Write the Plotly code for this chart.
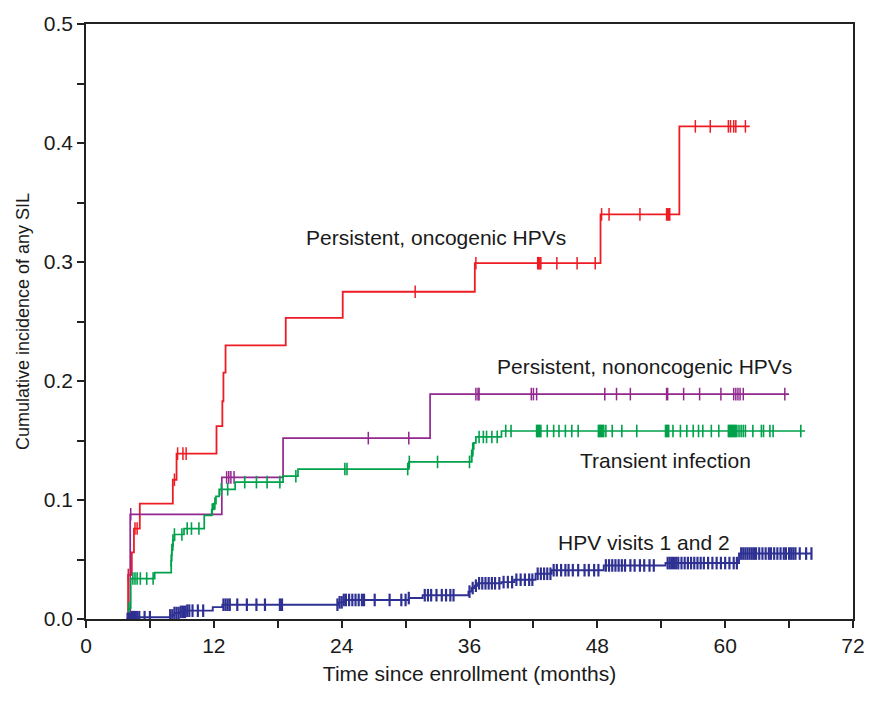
import numpy as np
import plotly.graph_objects as go

# ---------------- data ----------------
# Persistent, oncogenic HPVs (red)
onc_t = [3.9, 3.95, 4.3, 4.5, 5.05, 8.15, 8.5, 12.25, 12.8, 12.9, 13.1, 18.75, 24.1, 36.5, 48.3, 55.7, 62.3]
onc_y = [0, 0.037, 0.056, 0.076, 0.097, 0.117, 0.139, 0.162, 0.183, 0.207, 0.230, 0.253, 0.275, 0.299, 0.340, 0.414, 0.414]
onc_c = [3.97, 4.6, 4.8, 8.3, 8.6, 9.1, 9.4, 30.9, 36.6, 42.4, 42.5, 42.6, 42.7, 44.2, 46.1, 47.8,
         48.4, 49.1, 52.0, 54.5, 54.6, 54.7, 54.8, 57.2, 58.6, 60.3, 60.5, 60.8, 61.0, 61.9]

# Persistent, nononcogenic HPVs (purple)
non_t = [4.1, 4.15, 12.75, 18.5, 32.3, 66.0]
non_y = [0, 0.088, 0.119, 0.152, 0.189, 0.189]
non_c = [4.2, 13.2, 13.4, 13.6, 13.9, 26.5, 30.3, 36.6, 36.8, 36.9, 41.8, 42.0, 42.3, 48.7, 49.8,
         51.1, 54.5, 54.6, 56.1, 57.6, 59.6, 60.8, 61.0, 61.2, 61.4, 61.7, 65.6]

# Transient infection (green)
tra_t = [3.95, 4.0, 4.2, 6.45, 8.0, 8.05, 8.15, 8.3, 9.2, 11.1, 11.8, 12.0, 12.2, 12.5, 14.0, 18.5,
         19.9, 30.3, 36.2, 36.3, 36.4, 36.6, 39.0, 67.5]
tra_y = [0, 0.009, 0.034, 0.039, 0.049, 0.058, 0.066, 0.071, 0.076, 0.087, 0.092, 0.097, 0.103, 0.109,
         0.115, 0.120, 0.126, 0.132, 0.137, 0.143, 0.148, 0.153, 0.158, 0.158]
tra_c = [4.01, 4.4, 4.6, 4.8, 5.1, 5.7, 6.3, 8.0, 8.06, 8.16, 8.3, 9.0, 9.5, 9.9, 10.6, 11.85, 12.1,
         12.7, 13.3, 14.9, 16.0, 17.0, 18.2, 19.7, 24.3, 24.5, 30.2, 30.35, 33.0, 36.0, 36.2, 36.3,
         36.9, 37.3, 37.6, 38.1, 38.6, 39.4, 39.9, 42.3, 42.4, 42.5, 42.6, 42.7, 43.3, 43.9, 44.4,
         45.0, 45.6, 46.2, 48.1, 48.2, 48.3, 48.4, 48.5, 48.6, 48.8, 49.4, 50.3, 51.7, 54.4, 54.5,
         54.6, 54.7, 55.1, 55.8, 56.4, 57.0, 57.5, 57.9, 58.7, 59.4, 60.3, 60.4, 60.5, 60.6, 60.7,
         60.8, 60.9, 61.0, 61.1, 61.3, 61.5, 61.7, 61.9, 62.6, 63.4, 63.6, 64.2, 64.5, 67.1]

# HPV visits 1 and 2 (blue)
hpv_t = [3.8, 4.3, 7.9, 8.3, 8.8, 9.4, 11.9, 12.8, 23.7, 24.2, 30.3, 31.6, 35.9, 36.2, 36.5, 36.8,
         39.0, 40.2, 42.2, 43.7, 48.6, 54.4, 61.3, 68.1]
hpv_y = [0, 0.0015, 0.003, 0.005, 0.006, 0.007, 0.010, 0.012, 0.014, 0.016, 0.0176, 0.020, 0.023,
         0.026, 0.028, 0.030, 0.031, 0.033, 0.038, 0.041, 0.045, 0.047, 0.055, 0.055]
hpv_c = [3.9, 4.0, 4.1, 4.2, 4.3, 4.4, 4.5, 4.6, 4.8, 5.0, 5.5, 6.0,
         7.9, 8.1, 8.3, 8.5, 8.7, 8.9, 9.1, 9.3, 9.5, 9.7, 10.0, 10.5, 11.0,
         12.9, 13.1, 13.3, 13.5, 14.2, 15.1, 16.0, 16.8, 18.2, 18.4,
         23.6, 23.8, 24.0, 24.2, 24.4, 24.7, 25.0, 25.3, 25.6, 25.9, 26.1, 27.1, 28.5, 29.6, 30.0, 30.3,
         31.8, 32.1, 32.4, 32.9, 33.4, 33.8, 34.2, 34.5,
         36.0, 36.3, 36.6, 36.9, 37.2, 37.5, 37.8, 38.1, 38.4, 38.8, 39.2, 39.6, 40.0, 40.4, 40.8,
         41.2, 41.6, 41.9,
         42.4, 42.7, 43.0, 43.3, 43.6, 43.9, 44.2, 44.6, 45.0, 45.3, 45.7, 46.2, 46.8, 47.2, 47.7, 48.1,
         48.8, 49.1, 49.4, 49.7, 50.0, 50.3, 50.6, 51.1, 51.5, 52.0, 52.4, 52.9, 53.3,
         54.6, 54.8, 55.0, 55.2, 55.4, 55.6, 55.9, 56.2, 56.5, 56.8, 57.1, 57.4, 57.7, 58.0, 58.4,
         58.8, 59.2, 59.6, 60.0, 60.4, 60.8, 61.1,
         61.5, 61.7, 61.9, 62.1, 62.3, 62.5, 62.7, 62.9, 63.2, 63.5, 63.8, 64.1, 64.3, 64.6, 64.9,
         65.2, 65.5, 65.7, 66.0, 66.2, 66.4, 66.6, 67.0, 67.6, 68.1]

x_ticks = [0, 12, 24, 36, 48, 60, 72]
y_ticks = [0.0, 0.1, 0.2, 0.3, 0.4, 0.5]
y_tick_labels = ["0.0", "0.1", "0.2", "0.3", "0.4", "0.5"]

labels = ["Persistent, oncogenic HPVs", "Persistent, nononcogenic HPVs",
          "Transient infection", "HPV visits 1 and 2"]
label_x = [32.9, 52.4, 54.4, 52.4]
label_y = [0.321, 0.212, 0.133, 0.064]

series = [
    (onc_t, onc_y, onc_c, "#ed1c24", 1.8, 1.5),
    (non_t, non_y, non_c, "#92278f", 1.7, 1.5),
    (tra_t, tra_y, tra_c, "#00a14b", 1.7, 1.6),
    (hpv_t, hpv_y, hpv_c, "#2e3192", 1.9, 2.2),
]

FONT = "Liberation Sans, Arial, Helvetica, sans-serif"
INK = "#1a1a1a"

fig = go.Figure()
for t, y, c, col, lw, mw in series:
    t = np.array(t); y = np.array(y); c = np.array(c)
    idx = np.searchsorted(t, c, side="right") - 1
    idx = np.clip(idx, 0, len(y) - 1)
    cy = y[idx]
    fig.add_trace(go.Scatter(x=t, y=y, mode="lines", line=dict(color=col, width=lw, shape="hv"),
                             showlegend=False, hoverinfo="skip"))
    fig.add_trace(go.Scatter(x=c, y=cy, mode="markers",
                             marker=dict(symbol="line-ns", size=9, line=dict(color=col, width=mw)),
                             showlegend=False, hoverinfo="skip"))

for txt, ax_, ay_ in zip(labels, label_x, label_y):
    fig.add_annotation(x=ax_, y=ay_, text=txt, showarrow=False,
                       font=dict(family=FONT, size=21, color=INK))

axis_common = dict(showline=True, linecolor="#222222", linewidth=1.6, mirror=True,
                   ticks="outside", tickcolor="#222222", tickwidth=1.6, ticklen=7,
                   showgrid=False, zeroline=False,
                   tickfont=dict(family=FONT, size=21, color=INK))

fig.update_xaxes(range=[0, 72], tickvals=x_ticks, ticktext=[str(v) for v in x_ticks],
                 minor=dict(dtick=6, tick0=0, ticks="outside", ticklen=7, tickcolor="#222222", tickwidth=1.6),
                 title=dict(text="Time since enrollment (months)", standoff=10,
                            font=dict(family=FONT, size=21, color=INK)),
                 **axis_common)
fig.update_yaxes(range=[0, 0.5], tickvals=y_ticks, ticktext=y_tick_labels,
                 minor=dict(dtick=0.05, tick0=0, ticks="outside", ticklen=7, tickcolor="#222222", tickwidth=1.6),
                 title=dict(text="Cumulative incidence of any SIL", standoff=9,
                            font=dict(family=FONT, size=18, color=INK)),
                 **axis_common)

fig.update_layout(width=877, height=701, margin=dict(l=86, r=20, t=21, b=82),
                  plot_bgcolor="white", paper_bgcolor="white")

fig.write_html("out.html")
